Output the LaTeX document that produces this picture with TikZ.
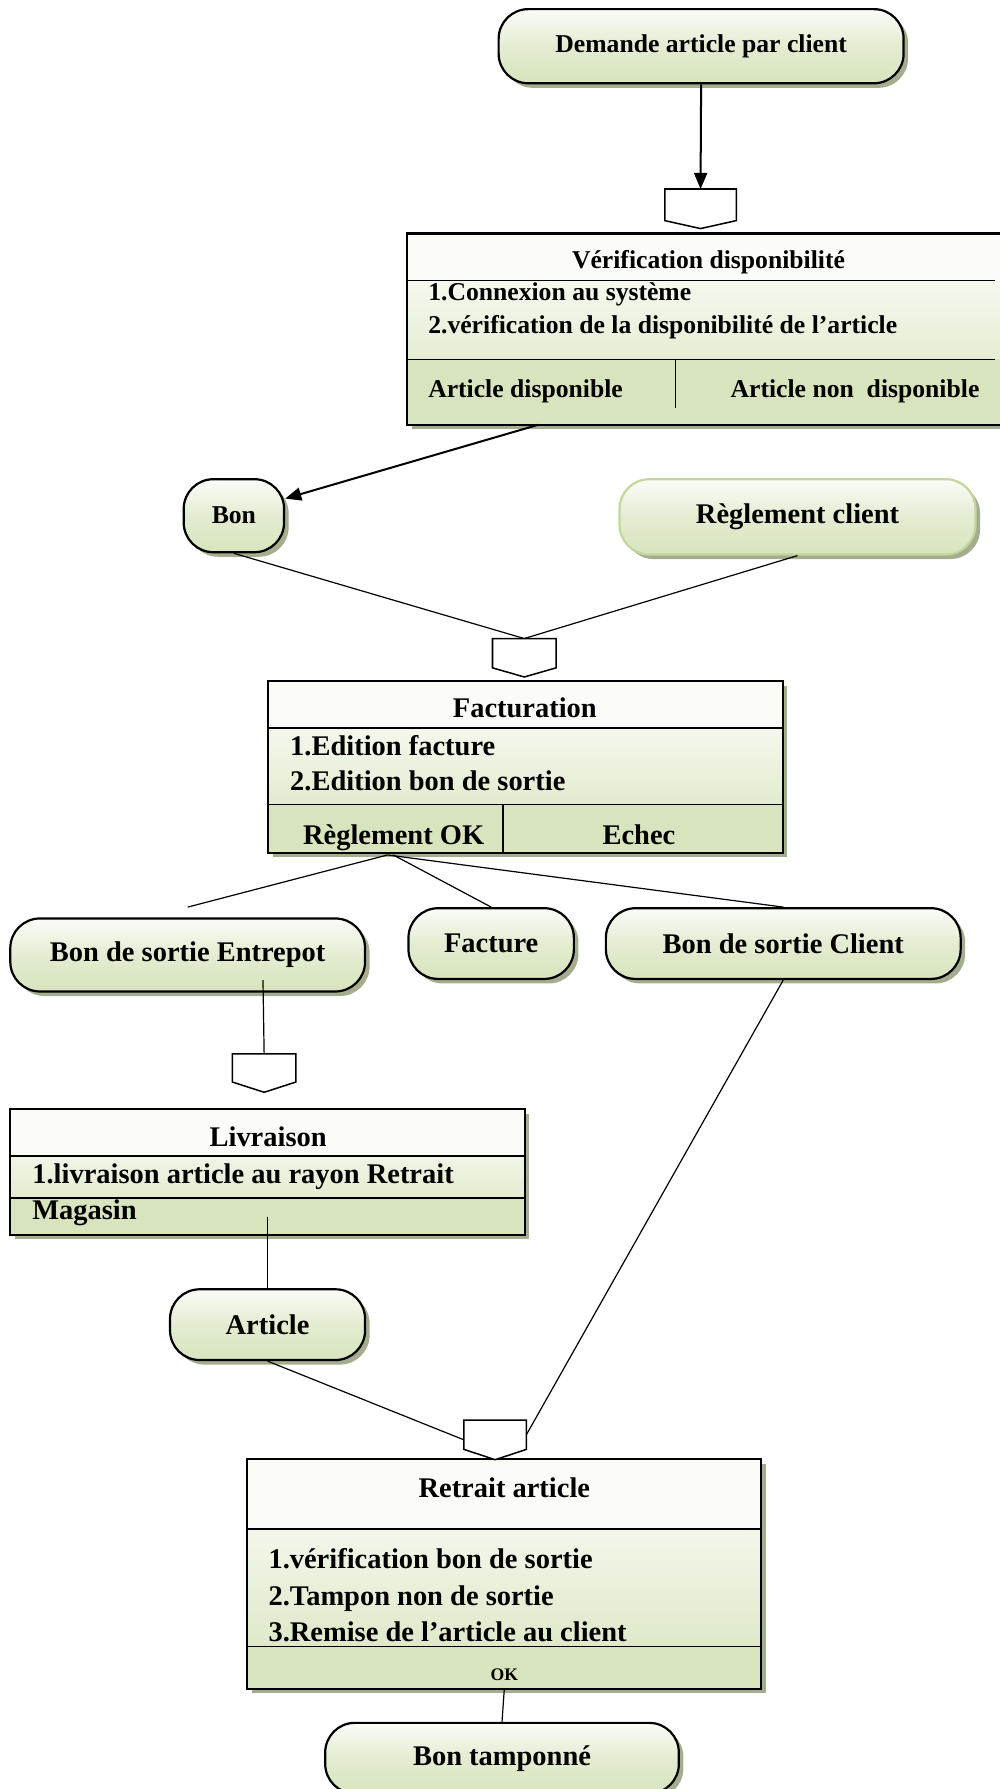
\documentclass[tikz,border=0pt]{standalone}
\usepackage{fontspec}
\setmainfont{Liberation Serif}
\usetikzlibrary{shadows,arrows.meta}

\definecolor{gbot}{HTML}{D7E4BD}
\definecolor{gtop}{HTML}{FBFCF8}
\definecolor{shad}{HTML}{A4AD8E}
\definecolor{lgreen}{HTML}{C3D69B}

% pentagon-shaped input port drawn on a named (invisible) node
\newcommand\portshape[2]{%
  \draw[portline] (#1.north west) -- (#1.north east) -- (#1.south east)
    -- ([yshift=-#2]#1.south) -- (#1.south west) -- cycle;}

\tikzset{
  sm/.style={font=\fontsize{12.8}{15}\selectfont\bfseries},
  lg/.style={font=\fontsize{14.2}{17}\selectfont\bfseries},
  tiny/.style={font=\fontsize{8.8}{10}\selectfont\bfseries},
  shadowed/.style={drop shadow={shadow xshift=0.08cm, shadow yshift=-0.08cm, fill=shad, opacity=1}},
  term/.style={rectangle, rounded corners=0.52cm, draw=black, line width=1.1pt,
    top color=gtop, bottom color=gbot, middle color=gbot!65!gtop, shadowed, inner sep=0pt},
  procbox/.style={rectangle, top color=white, bottom color=gbot, shadowed, inner sep=0pt},
  boxline/.style={draw=black, line width=1.1pt},
  secline/.style={draw=black, line width=0.75pt},
  port/.style={rectangle, draw=none, inner sep=0pt},
  portline/.style={draw=black, line width=0.75pt, fill=white},
  link/.style={draw=black, line width=0.6pt},
  flow/.style={draw=black, line width=1pt, -{Triangle[length=8pt,width=6.5pt]}},
  label/.style={inner sep=0pt, text height=1.0em, text depth=0.08em},
  item/.style={label, anchor=west},
}

\begin{document}
\begin{tikzpicture}[x=0.02cm, y=-0.02cm]
\useasboundingbox (0,0) rectangle (876,1568);

% ---------- request ----------
\node[term, sm, minimum width=7.1cm, minimum height=1.3cm] (dem) at (614.5,40.5) {Demande article par client};

\node[port, minimum width=1.24cm, minimum height=0.54cm] (p1) at (614,179.5) {};

% ---------- availability check ----------
\node[procbox, minimum width=10.56cm, minimum height=3.34cm] (verif) at (621,288.5) {};
\fill[gtop] (357,205) rectangle (885,246);
\fill[gbot] (357,315) rectangle (885,372);
\draw[secline] (357,246) -- (872,246);
\draw[secline] (357,315) -- (872,315);
\draw[secline] (592,315) -- (592,358);
\draw[boxline] (verif.north west) rectangle (verif.south east);
\node[sm, label] (vt) at (621,227) {Vérification disponibilité};
\node[sm, item] (v1) at (375,255) {1.Connexion au système};
\node[sm, item] (v2) at (375,284) {2.vérification de la disponibilité de l’article};
\node[sm, item] (v3) at (375,340) {Article disponible};
\node[sm, item] (v4) at (640,340) {Article non\ \ disponible};

% ---------- documents ----------
\node[term, sm, minimum width=1.76cm, minimum height=1.28cm] (bon) at (205,452) {Bon};
\node[term, lg, draw=lgreen, minimum width=6.24cm, minimum height=1.32cm] (regl) at (699,453) {Règlement client};

\node[port, minimum width=1.1cm, minimum height=0.5cm] (p2) at (459.5,572.5) {};

% ---------- billing ----------
\node[procbox, minimum width=9.02cm, minimum height=3cm] (fact) at (460.5,672) {};
\fill[gtop] (235,597) rectangle (686,638);
\fill[gbot] (235,705) rectangle (686,747);
\draw[secline] (235,638) -- (686,638);
\draw[secline] (235,705) -- (686,705);
\draw[secline] (441,705) -- (441,747);
\node[lg, label] (ft) at (460,621) {Facturation};
\node[lg, item] (f1) at (254,654) {1.Edition facture};
\node[lg, item] (f2) at (254,685) {2.Edition bon de sortie};
\begin{scope}
  \clip (235,705) rectangle (686,745);
  \node[lg, anchor=base, inner sep=0pt] (f3) at (345,740) {Règlement OK};
  \node[lg, anchor=base, inner sep=0pt] (f4) at (560,740) {Echec};
\end{scope}
\draw[boxline] (fact.north west) rectangle (fact.south east);

% ---------- billing outputs ----------
\node[term, lg, minimum width=6.22cm, minimum height=1.28cm] (bse) at (164.5,837) {Bon de sortie Entrepot};
\node[term, lg, minimum width=2.9cm, minimum height=1.24cm] (fac) at (430.5,827) {Facture};
\node[term, lg, minimum width=6.22cm, minimum height=1.24cm] (bsc) at (686.5,827) {Bon de sortie Client};

\node[port, minimum width=1.1cm, minimum height=0.48cm] (p3) at (231.5,936) {};

% ---------- delivery ----------
\node[procbox, minimum width=9.02cm, minimum height=2.2cm] (liv) at (234.5,1027) {};
\fill[gtop] (9,972) rectangle (460,1013);
\fill[gbot] (9,1050) rectangle (460,1082);
\draw[secline] (9,1013) -- (460,1013);
\draw[secline] (9,1050) -- (460,1050);
\draw[boxline] (liv.north west) rectangle (liv.south east);
\node[lg, label] (lt) at (235,997) {Livraison};
\node[lg, item] (l1) at (28,1029) {1.livraison article au rayon Retrait};
\node[lg, item] (l2) at (28,1061) {Magasin};

\node[term, lg, minimum width=3.42cm, minimum height=1.24cm] (art) at (234.5,1161) {Article};

\node[port, minimum width=1.08cm, minimum height=0.5cm] (p4) at (434,1257.5) {};

% ---------- pick-up ----------
\node[procbox, minimum width=9cm, minimum height=4.02cm] (ret) at (442,1379.5) {};
\fill[gtop] (217,1279) rectangle (667,1340);
\fill[gbot] (217,1443) rectangle (667,1480);
\draw[secline] (217,1340) -- (667,1340);
\draw[secline] (217,1443) -- (667,1443);
\draw[boxline] (ret.north west) rectangle (ret.south east);
\node[lg, label] (rt) at (442,1304) {Retrait article};
\node[lg, item] (r1) at (235,1367) {1.vérification bon de sortie};
\node[lg, item] (r2) at (235,1399) {2.Tampon non de sortie};
\node[lg, item] (r3) at (235,1431) {3.Remise de l’article au client};
\node[tiny, label] (rok) at (442,1465) {OK};

\node[term, lg, minimum width=6.2cm, minimum height=1.24cm] (bt) at (440,1541) {Bon tamponné};

% ---------- connectors ----------
\draw[flow] (dem.south) -- (p1.north);
\portshape{p1}{0.14cm}
\draw[flow] ([xshift=2.3cm]verif.south west) -- ([yshift=0.3cm]bon.east);
\draw[link] (bon.south) -- (p2.north);
\draw[link] (regl.south) -- (p2.north);
\portshape{p2}{0.16cm}
\draw[link] ([xshift=2.1cm, yshift=-0.04cm]fact.south west) -- ([yshift=0.18cm]bse.north);
\draw[link] ([xshift=2.2cm, yshift=-0.04cm]fact.south west) -- (fac.north);
\draw[link] ([xshift=2.1cm, yshift=-0.04cm]fact.south west) -- (bsc.north);
\draw[link] ([xshift=1.32cm, yshift=0.22cm]bse.south) -- (p3.north);
\portshape{p3}{0.18cm}
\draw[link] ([yshift=0.32cm]liv.south) -- (art.north);
\draw[link] (art.south) -- ([yshift=-0.09cm]p4.west);
\draw[link] (bsc.south) -- (p4.east);
\portshape{p4}{0.18cm}
\draw[link] (ret.south) -- (bt.north);
\end{tikzpicture}
\end{document}
